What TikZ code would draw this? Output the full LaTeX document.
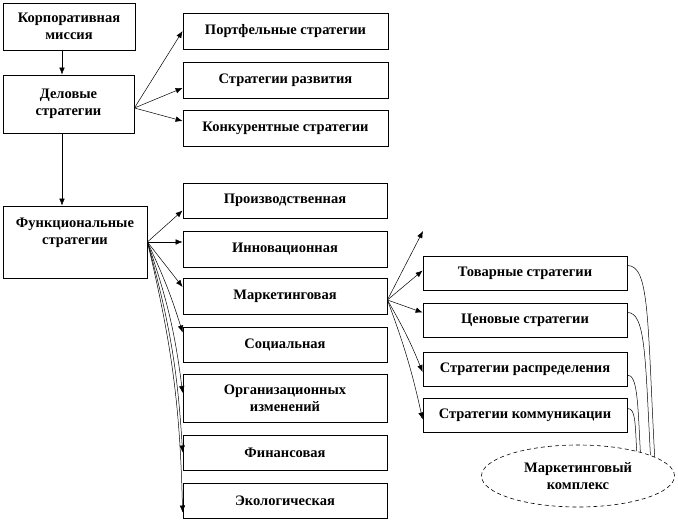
\documentclass[tikz,border=0pt]{standalone}
\usepackage{fontspec}
\setmainfont{Liberation Serif}
\usetikzlibrary{arrows.meta,shapes.geometric}
\tikzset{%
  box/.style={draw, line width=0.8pt, fill=white, align=center, inner sep=1pt, font=\bfseries\fontsize{14.5}{17}\selectfont},%
  mixbox/.style={box, ellipse, dash pattern=on 4pt off 3pt, line width=0.6pt},%
  arr/.style={-{Latex[length=7pt,width=5.5pt]}, line width=0.5pt},%
  link/.style={line width=0.5pt}%
}
\begin{document}
\begin{tikzpicture}[x=1pt,y=1pt]%
\useasboundingbox (0,0) rectangle (678,522);%
\node[box, minimum width=132pt, minimum height=47pt] (mission) at (69, 495.5) {Корпоративная\\миссия};%
\node[box, minimum width=131pt, minimum height=58pt] (business) at (68.5, 418) {Деловые\\стратегии};%
\node[box, minimum width=144pt, minimum height=72pt] (func) at (75, 280) {Функциональные\\стратегии\\[4pt]\mbox{}};%
\node[box, minimum width=205pt, minimum height=36pt] (port) at (285.5, 491) {Портфельные стратегии};%
\node[box, minimum width=205pt, minimum height=36pt] (dev) at (285.5, 442) {Стратегии развития};%
\node[box, minimum width=205pt, minimum height=36pt] (comp) at (285.5, 394) {Конкурентные стратегии};%
\node[box, minimum width=204pt, minimum height=35pt] (prod) at (285, 321.5) {Производственная};%
\node[box, minimum width=204pt, minimum height=36pt] (innov) at (285, 273) {Инновационная};%
\node[box, minimum width=204pt, minimum height=36pt] (mark) at (285, 226) {Маркетинговая};%
\node[box, minimum width=204pt, minimum height=35pt] (soc) at (285, 177.5) {Социальная};%
\node[box, minimum width=204pt, minimum height=48pt] (org) at (285, 124) {Организационных\\изменений};%
\node[box, minimum width=204pt, minimum height=35pt] (fin) at (285, 69.5) {Финансовая};%
\node[box, minimum width=204pt, minimum height=35pt] (eco) at (285, 21.5) {Экологическая};%
\node[box, minimum width=204pt, minimum height=34pt] (goods) at (525, 248.5) {Товарные стратегии};%
\node[box, minimum width=204pt, minimum height=34pt] (price) at (525, 201.5) {Ценовые стратегии};%
\node[box, minimum width=204pt, minimum height=34pt] (dist) at (525, 153) {Стратегии распределения};%
\node[box, minimum width=204pt, minimum height=34pt] (comm) at (525, 106.5) {Стратегии коммуникации};%
\node[mixbox, minimum width=193pt, minimum height=62pt, inner sep=0pt] (mix) at (578, 46) {Маркетинговый\\комплекс};%
\draw[arr] ([xshift=-7pt]mission.south) -- ([xshift=-6.5pt]business.north);%
\draw[arr] ([xshift=-6.5pt]business.south) -- ([xshift=-13pt]func.north);%
\coordinate (bs) at ([yshift=-4pt]business.east);%
\draw[arr] (bs) -- (port.west);%
\draw[arr] (bs) -- ([yshift=-8pt]dev.west);%
\draw[arr] (bs) -- ([yshift=7pt]comp.west);%
\draw[arr] (func.east) -- ([yshift=-10pt]prod.west);%
\draw[arr] (func.east) -- ([yshift=7pt]innov.west);%
\draw[arr] (func.east) -- ([yshift=9pt]mark.west);%
\draw[arr] (func.east) to[bend left=4] ([yshift=12pt]soc.west);%
\draw[arr] (func.east) to[bend left=6] ([yshift=5pt]org.west);%
\draw[arr] (func.east) to[bend left=6] (fin.west);%
\draw[arr] (func.east) to[bend left=6] ([yshift=-12pt]eco.west);%
\coordinate (ms) at ([yshift=-4pt]mark.east);%
\coordinate (free) at (423, 291);%
\draw[arr] (ms) -- (free);%
\draw[arr] (ms) -- ([yshift=3pt]goods.west);%
\draw[arr] (ms) -- ([yshift=8pt]price.west);%
\draw[arr] (ms) to[bend left=4] ([yshift=-3pt]dist.west);%
\draw[arr] (ms) to[bend left=4] ([yshift=-4pt]comm.west);%
\draw[link] ([yshift=8pt]goods.east) to[out=0,in=93,out distance=22pt,in distance=140pt] (mix.14);%
\draw[link] ([yshift=8pt]price.east) to[out=0,in=93,out distance=18pt,in distance=100pt] (mix.16);%
\draw[link] ([yshift=-6pt]dist.east) to[out=0,in=93,out distance=10pt,in distance=50pt] (mix.21);%
\draw[link] ([yshift=7pt]comm.east) to[out=0,in=93,out distance=8pt,in distance=30pt] (mix.23);%
\end{tikzpicture}
\end{document}
